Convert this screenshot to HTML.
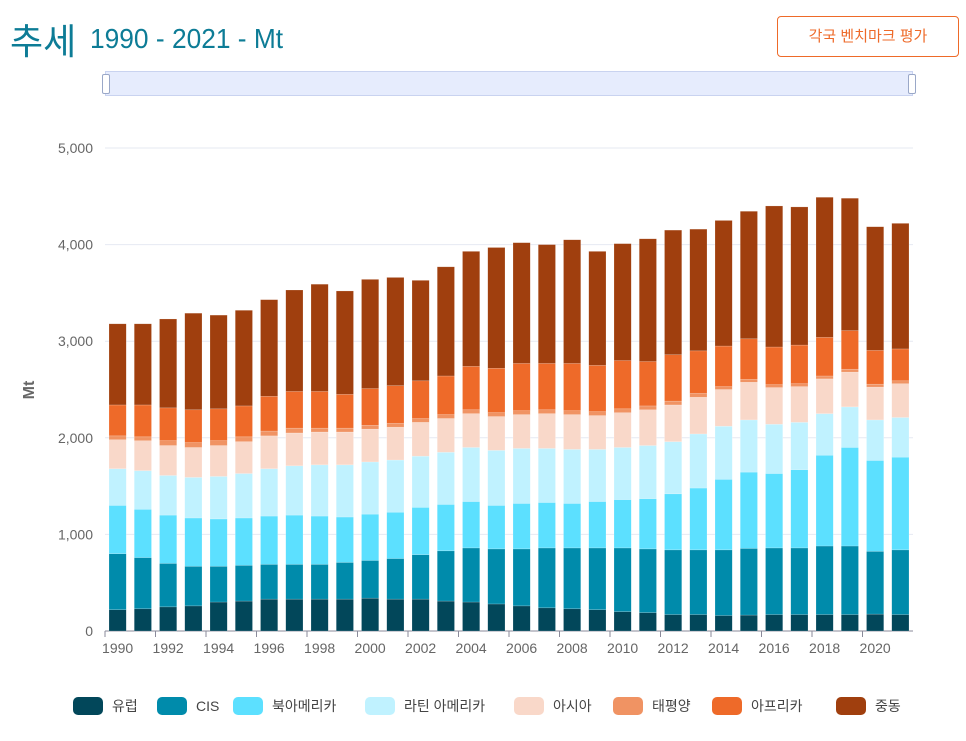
<!DOCTYPE html>
<html><head><meta charset="utf-8"><style>
body{margin:0;background:#fff;font-family:"Liberation Sans","Noto Sans CJK KR",sans-serif;}
#wrap{position:relative;width:966px;height:741px;overflow:hidden;}
</style></head><body>
<div id="wrap">
<div style="position:absolute;left:10px;top:13px;color:#0d7c96;white-space:nowrap;font-size:36px;font-family:'Liberation Sans','Noto Sans CJK KR',sans-serif;">추세</div>
<div style="position:absolute;left:90px;top:23px;color:#0d7c96;white-space:nowrap;font-size:28px;font-family:'Liberation Sans Narrow','Liberation Sans',sans-serif;transform:scaleX(0.94);transform-origin:left;">1990 - 2021 - Mt</div>
<div style="position:absolute;left:777px;top:16px;width:182px;height:41px;border:1px solid #ee6a29;border-radius:4px;box-sizing:border-box;color:#ee6a29;font-size:15px;line-height:39px;text-align:center;">각국 벤치마크 평가</div>
<div style="position:absolute;left:105px;top:71px;width:808px;height:25px;background:#e6ecfd;border:1px solid #c9d3f0;box-sizing:border-box;"></div>
<div style="position:absolute;left:102px;top:74px;width:6px;height:18px;background:#fff;border:1px solid #9aa8c8;border-radius:2px;"></div>
<div style="position:absolute;left:908px;top:74px;width:6px;height:18px;background:#fff;border:1px solid #9aa8c8;border-radius:2px;"></div>
<svg id="chart" width="966" height="741" style="position:absolute;left:0;top:0;"></svg>
</div>
<script>
const years=[];for(let y=1990;y<=2021;y++)years.push(y);
const seriesNames=["유럽","CIS","북아메리카","라틴 아메리카","아시아","태평양","아프리카","중동"];
const europe=[220,230,250,260,300,310,330,330,330,330,340,330,330,310,300,280,260,240,230,220,200,190,170,170,160,165,170,170,170,170,175,170];
const cis=[580,530,450,410,370,370,360,360,360,380,390,420,460,520,560,570,590,620,630,640,660,660,670,670,680,690,690,690,710,710,650,670];
const northAmerica=[500,500,500,500,490,490,500,510,500,470,480,480,490,480,480,450,470,470,460,480,500,520,580,640,730,790,770,810,940,1020,940,960];
const latinAmerica=[380,400,410,420,440,460,490,510,530,540,540,540,530,540,560,570,570,560,560,540,540,550,540,560,550,540,510,490,430,420,420,410];
const asia=[300,310,310,310,320,330,340,340,340,340,340,340,350,350,350,350,350,360,360,350,360,370,380,380,380,390,380,370,360,360,340,350];
const pacific=[40,40,50,50,50,50,50,50,40,40,40,40,40,40,40,40,40,40,40,40,40,40,40,40,30,30,30,30,30,30,30,30];
const africa=[320,330,340,340,330,320,360,380,380,350,380,390,390,400,450,460,490,480,490,480,500,460,480,440,420,420,390,400,400,400,350,330];
const middleEast=[840,840,920,1000,970,990,1000,1050,1110,1070,1130,1120,1040,1130,1190,1250,1250,1230,1280,1180,1210,1270,1290,1260,1300,1320,1460,1430,1450,1370,1280,1300];
const yTicks=[0,1000,2000,3000,4000,5000];
const yTickLabels=["0","1,000","2,000","3,000","4,000","5,000"];
const series=[europe,cis,northAmerica,latinAmerica,asia,pacific,africa,middleEast];
const colors=["#02475a","#008bab","#5ce0ff","#c0f2ff","#f9d8c9","#f09363","#ee6a29","#a03f0e"];
const keys=["europe","cis","north-america","latin-america","asia","pacific","africa","middle-east"];
const svg=document.getElementById('chart');const NS="http://www.w3.org/2000/svg";
const L=105,R=913,T=148,B=631,maxV=5000;
const band=(R-L)/years.length;
const yS=v=>B-(v/maxV)*(B-T);
const xS=i=>L+i*band;
function mk(t,a){const e=document.createElementNS(NS,t);for(const k in a)e.setAttribute(k,a[k]);svg.appendChild(e);return e;}
yTicks.forEach((v,i)=>{
 const g=mk('line',{x1:L,x2:R,y1:yS(v),y2:yS(v),stroke:v===0?'#8a8a9a':'#e6e9f2','stroke-width':1});
 
 
 const t=mk('text',{x:93,y:yS(v)+5,'text-anchor':'end','font-size':14,fill:'#666','font-family':'Liberation Sans, sans-serif'});
 t.textContent=yTickLabels[i];
 
 
});
const yt=mk('text',{x:0,y:0,'font-size':16,'font-weight':'bold',fill:'#666','text-anchor':'middle',transform:'translate(34,390) rotate(-90)'});
yt.textContent='Mt';


years.forEach((yr,i)=>{
 let acc=0;
 series.forEach((s,k)=>{
  const v=s[i];const y0=yS(acc),y1=yS(acc+v);acc+=v;
  const r=mk('rect',{x:xS(i)+4,y:y1,width:band-8,height:Math.max(0,y0-y1),fill:colors[k],stroke:'rgba(255,255,255,0.35)','stroke-width':0.5});
  
  
 });
 if(i%2===0){
  const tk=mk('line',{x1:xS(i),x2:xS(i),y1:B,y2:B+6,stroke:'#8a8a9a'});
  
  
  const t=mk('text',{x:xS(i)+band/2,y:653,'text-anchor':'middle','font-size':14,fill:'#666'});
  t.textContent=yr;
  
  
 }
});
const legX=[73,157,233,365,514,613,712,836];
seriesNames.forEach((n,k)=>{
 const r=mk('rect',{x:legX[k],y:697,width:30,height:18,rx:5,fill:colors[k]});
 
 
 const t=mk('text',{x:legX[k]+39,y:711,'font-size':14,fill:'#444'});
 t.textContent=n;
 
 
});
</script>
</body></html>
